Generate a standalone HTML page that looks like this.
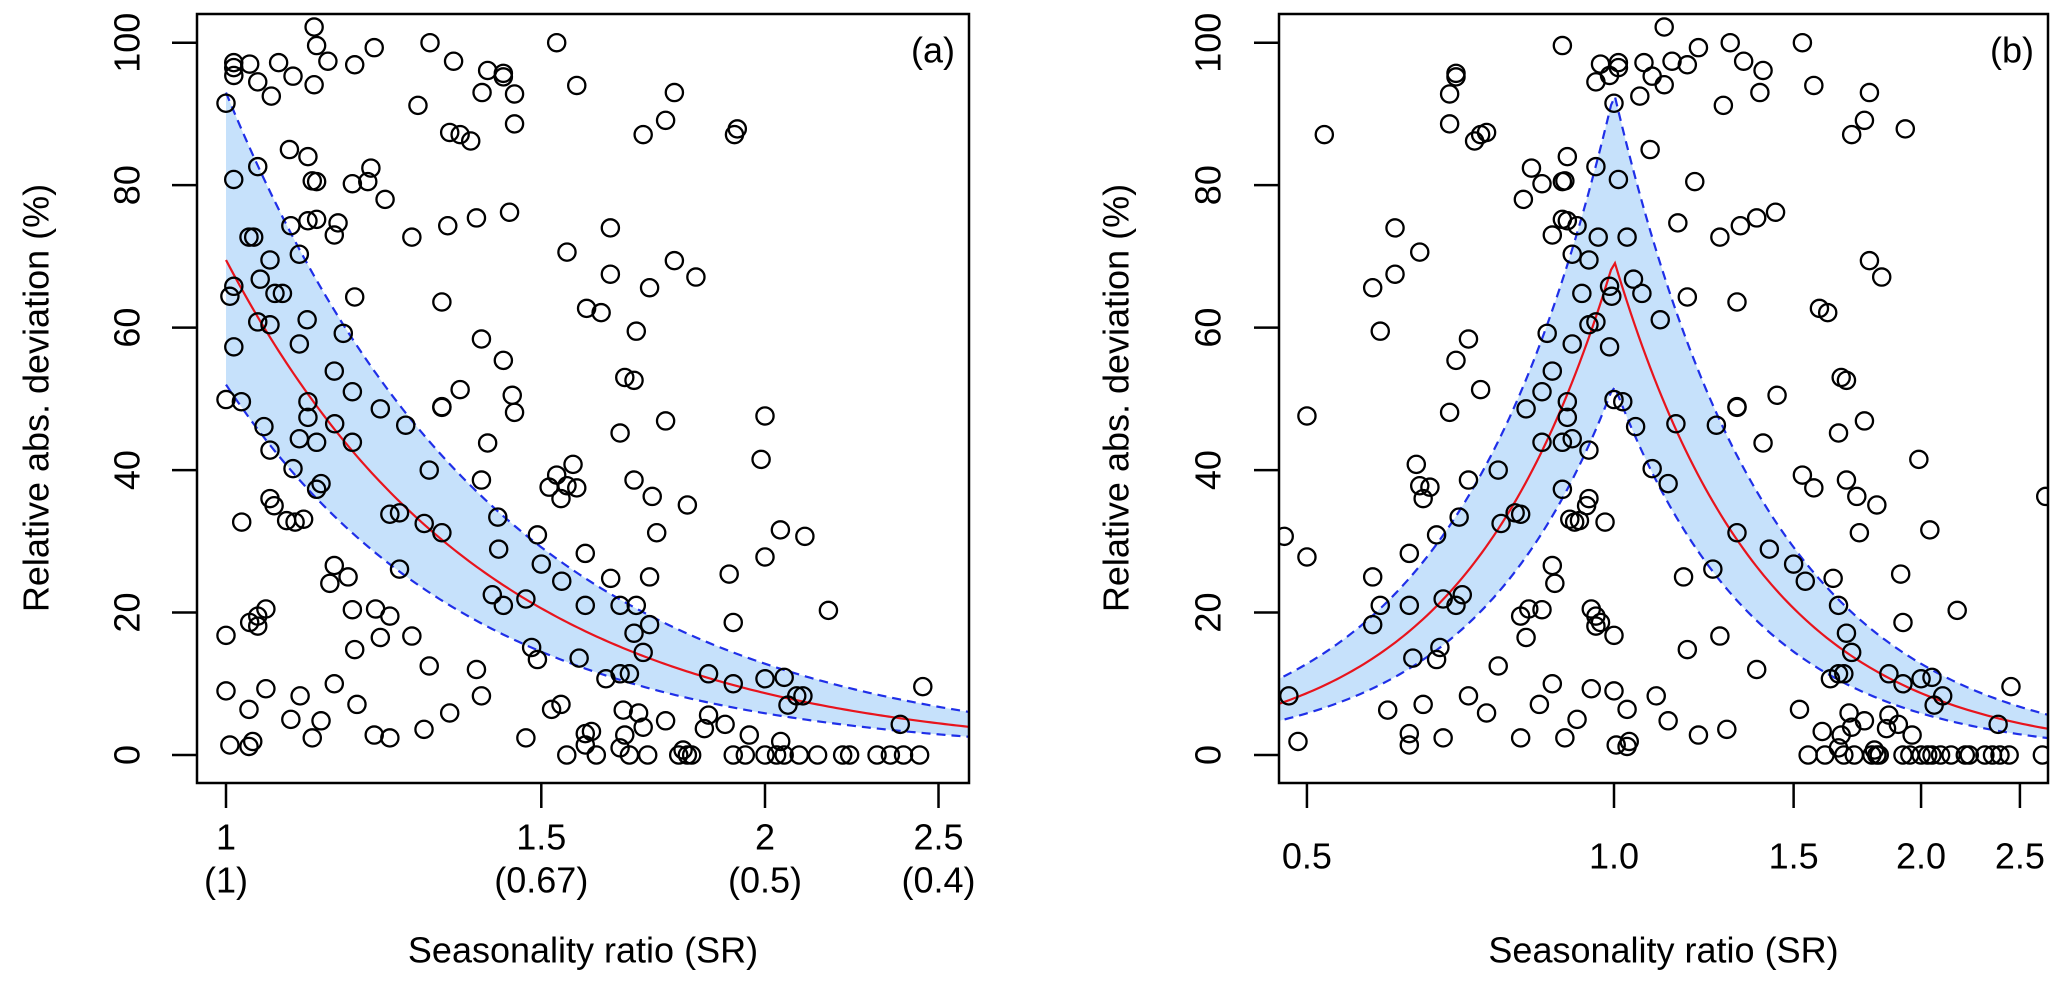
<!DOCTYPE html>
<html><head><meta charset="utf-8"><style>
html,body{margin:0;padding:0;background:#fff;}
svg{display:block;}
text{font-family:"Liberation Sans",Arial,sans-serif;fill:#000;}
</style></head><body>
<svg id="chart" xmlns="http://www.w3.org/2000/svg" width="2067" height="982" viewBox="0 0 2067 982">
<defs>
<clipPath id="clipA"><rect x="197" y="14" width="772" height="769"/></clipPath>
<clipPath id="clipB"><rect x="1279" y="14" width="769" height="769"/></clipPath>
</defs>
<g id="panelA"></g>
<g id="panelB"></g>
</svg>
<script>
// Seasonality ratio (SR) and relative abs. deviation (%) for each observation
const srValues = [1.12,0.89,0.97,1.01,1.01,0.99,0.96,1.07,1.14,1.18,1.21,1.30,1.34,1.40,1.39,1.28,1.06,1.09,1.12,1.0,1.53,1.57,1.78,1.76,1.71,1.93,0.52,0.70,0.70,0.69,0.69,0.74,0.75,0.73,
1.085,1.01,1.20,0.90,0.96,0.83,0.85,0.89,0.895,0.815,0.89,0.90,0.92,0.87,0.91,0.965,1.03,1.155,1.27,1.33,1.38,1.44,0.61,0.645,0.61,0.58,0.59,0.945,1.78,1.83,
0.99,0.995,0.93,1.045,1.065,1.11,1.18,1.32,1.59,1.62,0.945,0.96,0.86,0.91,0.99,0.72,0.70,0.87,1.67,1.69,0.74,0.85,1.445,
1.0,1.02,0.90,0.90,0.82,0.69,0.50,1.05,1.15,1.26,1.32,1.32,1.66,1.76,0.85,0.89,0.91,0.945,1.40,1.09,1.13,0.77,0.64,0.645,0.66,0.65,0.72,0.89,1.99,1.53,1.57,1.69,1.73,1.81,2.65,
0.945,0.94,0.905,0.915,0.925,0.98,0.80,0.81,0.775,0.705,0.67,0.475,0.50,0.63,0.58,0.59,0.58,0.87,0.875,1.32,1.42,1.50,1.54,1.64,1.17,1.25,1.74,2.04,1.91,
0.63,0.68,0.71,0.70,0.81,0.825,0.85,0.82,0.95,0.96,0.96,0.97,1.0,0.675,0.67,0.635,0.77,1.27,1.18,1.66,1.69,1.71,1.92,2.17,1.38,
0.48,0.49,0.60,0.63,0.63,0.65,0.68,0.72,0.75,0.81,0.845,0.87,0.895,0.92,0.95,1.0,1.03,1.005,1.03,1.035,1.10,1.13,1.21,1.29,1.52,1.60,1.63,1.66,1.68,1.70,1.71,1.67,1.76,1.66,1.86,1.92,2.0,2.05,2.06,1.86,1.85,1.90,1.96,2.45,2.38,1.80,2.10,
1.55,1.61,1.68,1.72,1.79,1.81,1.82,1.92,1.95,2.0,2.03,2.05,2.09,2.14,2.21,2.23,2.31,2.35,2.39,2.44,2.63];
const devValues = [102.2,99.6,97,97.2,96.5,95.4,94.5,97.2,97.4,96.9,99.3,100,97.4,96.1,93,91.2,92.5,95.3,94.1,91.5,100,94,93,89.1,87.1,87.9,87.1,95.7,95.2,92.8,88.6,87.1,87.4,86.2,
85,80.8,80.5,84,82.6,82.4,80.2,80.5,80.6,78,75.2,75,74.3,73,70.3,72.7,72.7,74.7,72.7,74.3,75.4,76.2,74,70.6,67.5,65.6,59.5,69.5,69.4,67.1,
65.8,64.4,64.8,66.8,64.8,61.1,64.3,63.6,62.7,62.1,60.4,60.8,59.2,57.7,57.3,58.4,55.4,53.9,53,52.6,51.3,51,50.5,
49.9,49.6,49.6,47.4,48.6,48.1,47.6,46.1,46.5,46.3,48.8,48.9,45.2,46.9,43.9,43.9,44.4,42.8,43.8,40.2,38.1,40,40.8,37.8,37.6,36,38.6,37.3,41.5,39.3,37.5,38.6,36.3,35.1,36.3,
36,35,33.1,32.7,32.9,32.7,34,33.8,32.5,33.4,30.9,30.7,27.8,28.3,25,21,18.3,26.6,24.1,31.2,28.9,26.8,24.4,24.8,25,26.1,31.2,31.6,25.4,
21,21.9,22.5,21,19.5,20.5,20.4,16.5,20.5,19.5,18.1,18.6,16.8,15.1,13.4,13.6,12.5,16.7,14.8,21,17.1,14.4,18.6,20.3,12,
8.3,1.9,6.3,3,1.4,7.1,2.4,8.3,5.9,2.4,7.1,10,2.4,5,9.3,9,6.4,1.4,1.2,1.9,8.3,4.8,2.8,3.6,6.4,3.3,10.7,11.4,11.4,5.9,3.9,2.8,4.8,1,11.4,10,10.7,10.9,7,5.6,3.7,4.3,2.8,9.6,4.3,0.7,8.3,
0,0,0,0,0,0,0,0,0,0,0,0,0,0,0,0,0,0,0,0,0];
// Fitted curve parameters: centre line and band (amplitude at SR=1, decay exponent)
const fitAmp = [69.5, 93, 52];   // centre, upper, lower
const fitExp = [3.0, 2.86, 3.15];
const yTicks = [0,20,40,60,80,100];
const xTicksA = [1,1.5,2,2.5];
const xTickLabelsA = ["1","1.5","2","2.5"];
const xTickSubLabelsA = ["(1)","(0.67)","(0.5)","(0.4)"];
const xTicksB = [0.5,1.0,1.5,2.0,2.5];
const xTickLabelsB = ["0.5","1.0","1.5","2.0","2.5"];

const NS = "http://www.w3.org/2000/svg";
function mk(parent, tag, attrs, txt){
  const e = document.createElementNS(NS, tag);
  for (const k in attrs) e.setAttribute(k, attrs[k]);
  if (txt !== undefined) e.textContent = txt;
  parent.appendChild(e); return e;
}
function yScale(v){ return 755 - 7.123*v; }
function xA(v){ return 226 + 777.6*Math.log(v); }
function xB(v){ return 1614 + 443*Math.log(v); }
function curve(i, d){ return fitAmp[i]*Math.exp(-fitExp[i]*d); }

function drawPanel(g, opt){
  // band
  const up=[], lo=[], mid=[];
  const n=200;
  for (let j=0;j<=n;j++){
    const s = Math.exp(opt.lnMin + (opt.lnMax-opt.lnMin)*j/n);
    const d = Math.abs(Math.log(s));
    const px = opt.x(s);
    up.push([px, yScale(curve(1,d))]);
    lo.push([px, yScale(curve(2,d))]);
    mid.push([px, yScale(curve(0,d))]);
  }
  if (opt.peak){
    // insert exact peak
  }
  const cg = mk(g,'g',{'clip-path':'url(#'+opt.clip+')'});
  const band = mk(cg,'polygon',{points: up.concat(lo.slice().reverse()).map(p=>p.join(',')).join(' '), fill:'#c6e1fb', stroke:'none'});
  
  
  const pl = a => a.map(p=>p.join(',')).join(' ');
  const l1 = mk(cg,'polyline',{points:pl(up), fill:'none', stroke:'#1f2fe8','stroke-width':2.2,'stroke-dasharray':'9,6'});
  
  
  const l2 = mk(cg,'polyline',{points:pl(lo), fill:'none', stroke:'#1f2fe8','stroke-width':2.2,'stroke-dasharray':'9,6'});
  
  
  const l3 = mk(cg,'polyline',{points:pl(mid), fill:'none', stroke:'#e8141c','stroke-width':2.2});
  
  
  // points
  for (let i=0;i<srValues.length;i++){
    const s = opt.fold ? Math.max(srValues[i], 1/srValues[i]) : srValues[i];
    const c = mk(cg,'circle',{cx:opt.x(s), cy:yScale(devValues[i]), r:8.6, fill:'none', stroke:'#000','stroke-width':2.3});
    
    
  }
  // box
  const bx = mk(g,'rect',{x:opt.bx0, y:14, width:opt.bx1-opt.bx0, height:769, fill:'none', stroke:'#000','stroke-width':2.5});
  
  
  // y ticks
  yTicks.forEach(t=>{
    const y = yScale(t);
    mk(g,'line',{x1:opt.bx0-25, x2:opt.bx0, y1:y, y2:y, stroke:'#000','stroke-width':2.5});
    const tx = mk(g,'text',{x:opt.ylabX, y:y, 'font-size':36, 'text-anchor':'middle','dominant-baseline':'central', transform:'rotate(-90 '+opt.ylabX+' '+y+')'}, String(t));
    
    
  });
  // x ticks
  opt.ticks.forEach((t,i)=>{
    const x = opt.x(t);
    mk(g,'line',{x1:x, x2:x, y1:783, y2:808, stroke:'#000','stroke-width':2.5});
    const tx = mk(g,'text',{x:x, y:opt.tickY, 'font-size':36, 'text-anchor':'middle','dominant-baseline':'central'}, opt.labels[i]);
    
    
    if (opt.sub){
      const s2 = mk(g,'text',{x:x, y:880, 'font-size':36, 'text-anchor':'middle','dominant-baseline':'central'}, opt.sub[i]);
      
      
    }
  });
  const xt = mk(g,'text',{x:(opt.bx0+opt.bx1)/2, y:950, 'font-size':36, 'text-anchor':'middle','dominant-baseline':'central'}, 'Seasonality ratio (SR)');
  
  
  const yt = mk(g,'text',{x:opt.ytitleX, y:398, 'font-size':36, 'text-anchor':'middle','dominant-baseline':'central', transform:'rotate(-90 '+opt.ytitleX+' 398)'}, 'Relative abs. deviation (%)');
  
  
  const pt = mk(g,'text',{x:opt.bx1-14, y:50, 'font-size':36, 'text-anchor':'end','dominant-baseline':'central'}, opt.tag);
  
  
}

drawPanel(document.getElementById('panelA'), {x:xA, fold:true, lnMin:0, lnMax:Math.log(2.62), clip:'clipA',
  bx0:197, bx1:969, ylabX:127, ytitleX:36, ticks:xTicksA, labels:xTickLabelsA, sub:xTickSubLabelsA, tickY:837, tag:'(a)'});
drawPanel(document.getElementById('panelB'), {x:xB, fold:false, lnMin:Math.log(0.46), lnMax:Math.log(2.7), clip:'clipB',
  bx0:1279, bx1:2048, ylabX:1208, ytitleX:1116, ticks:xTicksB, labels:xTickLabelsB, sub:null, tickY:856, tag:'(b)'});
</script>
</body></html>
